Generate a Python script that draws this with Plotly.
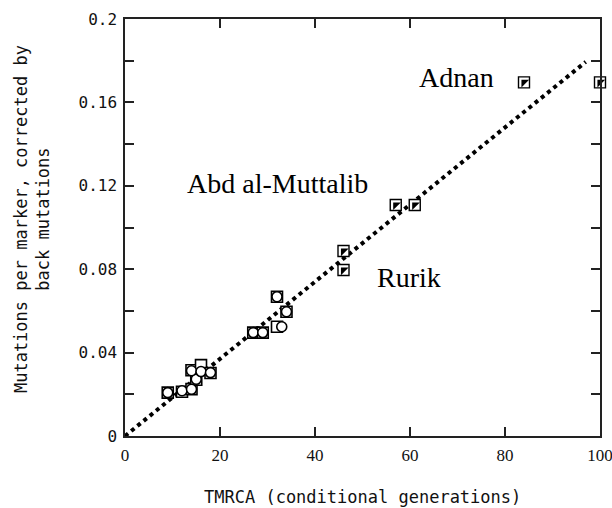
import plotly.graph_objects as go

# ---- data ----
# open squares (lower cluster)
sq_x = [9, 12, 14, 15, 14, 16, 18, 27, 29, 32, 32, 34]
sq_y = [0.0208, 0.0212, 0.0225, 0.0270, 0.0315, 0.0340, 0.0302, 0.0496, 0.0496, 0.0524, 0.0668, 0.0596]
# open circles (lower cluster)
ci_x = [9, 12, 14, 15, 14, 16, 18, 27, 29, 33, 32, 34]
ci_y = [0.0208, 0.0217, 0.0224, 0.0272, 0.0313, 0.0309, 0.0304, 0.0496, 0.0496, 0.0524, 0.0668, 0.0596]
# half-filled squares (named lineages)
hf_x = [46, 46, 57, 61, 84, 100]
hf_y = [0.0887, 0.0796, 0.1108, 0.1108, 0.1696, 0.1696]
# fitted line
slope = 0.00185
line_x = [0, 97]
line_y = [slope * v for v in line_x]

# labels
lab_text = ["Adnan", "Abd al-Muttalib", "Rurik"]
lab_x = [69.7, 32.0, 59.8]
lab_y = [0.172, 0.121, 0.076]

x_ticks = [0, 20, 40, 60, 80, 100]
y_ticks = [0, 0.02, 0.04, 0.06, 0.08, 0.10, 0.12, 0.14, 0.16, 0.18, 0.20]
y_text = ["0", "", "0.04", "", "0.08", "", "0.12", "", "0.16", "", "0.2"]

mono = "DejaVu Sans Mono"
xfont = "Liberation Sans Narrow"
serif = "Liberation Serif"
ink = "#111111"

fig = go.Figure()
fig.add_trace(go.Scatter(x=line_x, y=line_y, mode="lines",
                         line=dict(color="black", width=4, dash="4px,4px"),
                         hoverinfo="skip", cliponaxis=False))
fig.add_trace(go.Scatter(x=sq_x, y=sq_y, mode="markers", cliponaxis=False,
                         marker=dict(symbol="square", size=11, color="white",
                                     line=dict(color="black", width=1.6))))
fig.add_trace(go.Scatter(x=ci_x, y=ci_y, mode="markers", cliponaxis=False,
                         marker=dict(symbol="circle", size=10, color="white",
                                     line=dict(color="black", width=1.6))))
fig.add_trace(go.Scatter(x=hf_x, y=hf_y, mode="markers", cliponaxis=False,
                         marker=dict(symbol="square", size=11, color="white",
                                     line=dict(color="black", width=1.4))))
fig.add_trace(go.Scatter(x=hf_x, y=hf_y, mode="markers", cliponaxis=False,
                         marker=dict(symbol="triangle-nw", size=8.5, color="black",
                                     line=dict(width=0))))

for t, x, y in zip(lab_text, lab_x, lab_y):
    fig.add_annotation(x=x, y=y, text=t, showarrow=False,
                       font=dict(family=serif, size=28, color="black"),
                       xanchor="center", yanchor="middle")

fig.add_annotation(xref="paper", yref="paper", x=-0.196, y=0.52,
                   text="Mutations per marker, corrected by<br>back mutations",
                   textangle=-90, showarrow=False,
                   font=dict(family=mono, size=17, color=ink),
                   xanchor="center", yanchor="middle")
fig.add_annotation(xref="paper", yref="paper", x=0.499, y=-0.146,
                   text="TMRCA (conditional generations)", showarrow=False,
                   font=dict(family=mono, size=17, color=ink),
                   xanchor="center", yanchor="middle")

axis_common = dict(showline=True, linecolor="#222222", linewidth=1.5,
                   mirror="ticks", ticks="inside", ticklen=9, tickwidth=1.5,
                   tickcolor="#222222", showgrid=False, zeroline=False,
                   ticklabeloverflow="allow", automargin=False,
                   ticklabelstandoff=3)

fig.update_xaxes(range=[0, 100], tickvals=x_ticks,
                 ticktext=[str(v) for v in x_ticks],
                 tickfont=dict(family=xfont, size=17, color=ink), **axis_common)
fig.update_yaxes(range=[0, 0.2], tickvals=y_ticks, ticktext=y_text,
                 tickfont=dict(family=mono, size=16, color=ink), **axis_common)

fig.update_layout(width=612, height=508, showlegend=False,
                  margin=dict(l=125, r=12, t=19, b=72, autoexpand=False),
                  paper_bgcolor="white", plot_bgcolor="white")

fig.write_html("out.html")
